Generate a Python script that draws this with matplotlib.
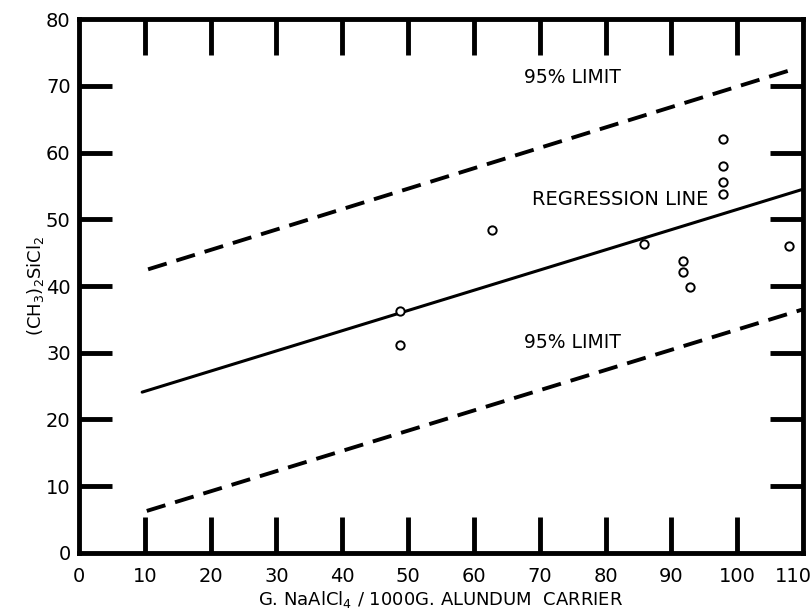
import matplotlib
matplotlib.use("Agg")
import matplotlib.pyplot as plt
import matplotlib.transforms as mtransforms

# data
salt = [48.7, 48.7, 62.7, 85.8, 91.7, 91.7, 92.8, 97.8, 97.8, 97.8, 97.8, 107.9]
dms = [36.3, 31.2, 48.4, 46.3, 43.7, 42.1, 39.9, 62.0, 58.0, 55.6, 53.8, 46.0]

reg_x = [9.6, 110.0]
reg_y = [24.1, 54.5]
upper_x = [10.5, 108.6]
upper_y = [42.5, 72.5]
lower_x = [10.3, 110.0]
lower_y = [6.3, 36.5]

xticks = list(range(0, 111, 10))
yticks = list(range(0, 81, 10))

plt.rcParams['font.family'] = ['DejaVu Sans']
fig = plt.figure(figsize=(8.11, 6.16), dpi=100)
ax = fig.add_axes([0.0974, 0.1023, 0.8927, 0.8668])

ax.plot(reg_x, reg_y, '-', color='black', linewidth=2.2, solid_capstyle='round')
ax.plot(upper_x, upper_y, '--', color='black', linewidth=2.8, dashes=(5, 2.6))
ax.plot(lower_x, lower_y, '--', color='black', linewidth=2.8, dashes=(5, 2.6))
ax.plot(salt, dms, 'o', markerfacecolor='white', markeredgecolor='black',
        markersize=6, markeredgewidth=1.4, linestyle='none', zorder=3)

ax.text(74.9, 71.3, '95% LIMIT', fontsize=13.5, ha='center', va='center')
ax.text(82.2, 52.9, 'REGRESSION LINE', fontsize=14, ha='center', va='center')
ax.text(74.9, 31.6, '95% LIMIT', fontsize=13.5, ha='center', va='center')

ax.set_xlim(0, 110)
ax.set_ylim(0, 80)
ax.set_xticks(xticks)
ax.set_yticks(yticks)
ax.xaxis.remove_overlapping_locs = False
ax.yaxis.remove_overlapping_locs = False
ax.set_xticks(xticks[1:-1], minor=True)
ax.set_yticks(yticks[1:-1], minor=True)
ax.tick_params(which='major', length=0, labelsize=14, pad=10)
ax.tick_params(axis='y', which='major', pad=6)
ax.tick_params(which='minor', direction='in', length=26, width=3.5,
               top=True, right=True, bottom=True, left=True)
ax.tick_params(axis='y', which='minor', length=24)

# pull the last x label inside the figure like in the original
last = ax.get_xticklabels()[-1]
last.set_transform(last.get_transform() +
                   mtransforms.ScaledTranslation(-0.1, 0, fig.dpi_scale_trans))

for s in ax.spines.values():
    s.set_linewidth(3.5)

ax.set_xlabel('G. NaAlCl$_4$ / 1000G. ALUNDUM  CARRIER', fontsize=13, labelpad=2)
ax.set_ylabel('(CH$_3$)$_2$SiCl$_2$', fontsize=13, labelpad=0)

fig.savefig("out.png", dpi=100)
